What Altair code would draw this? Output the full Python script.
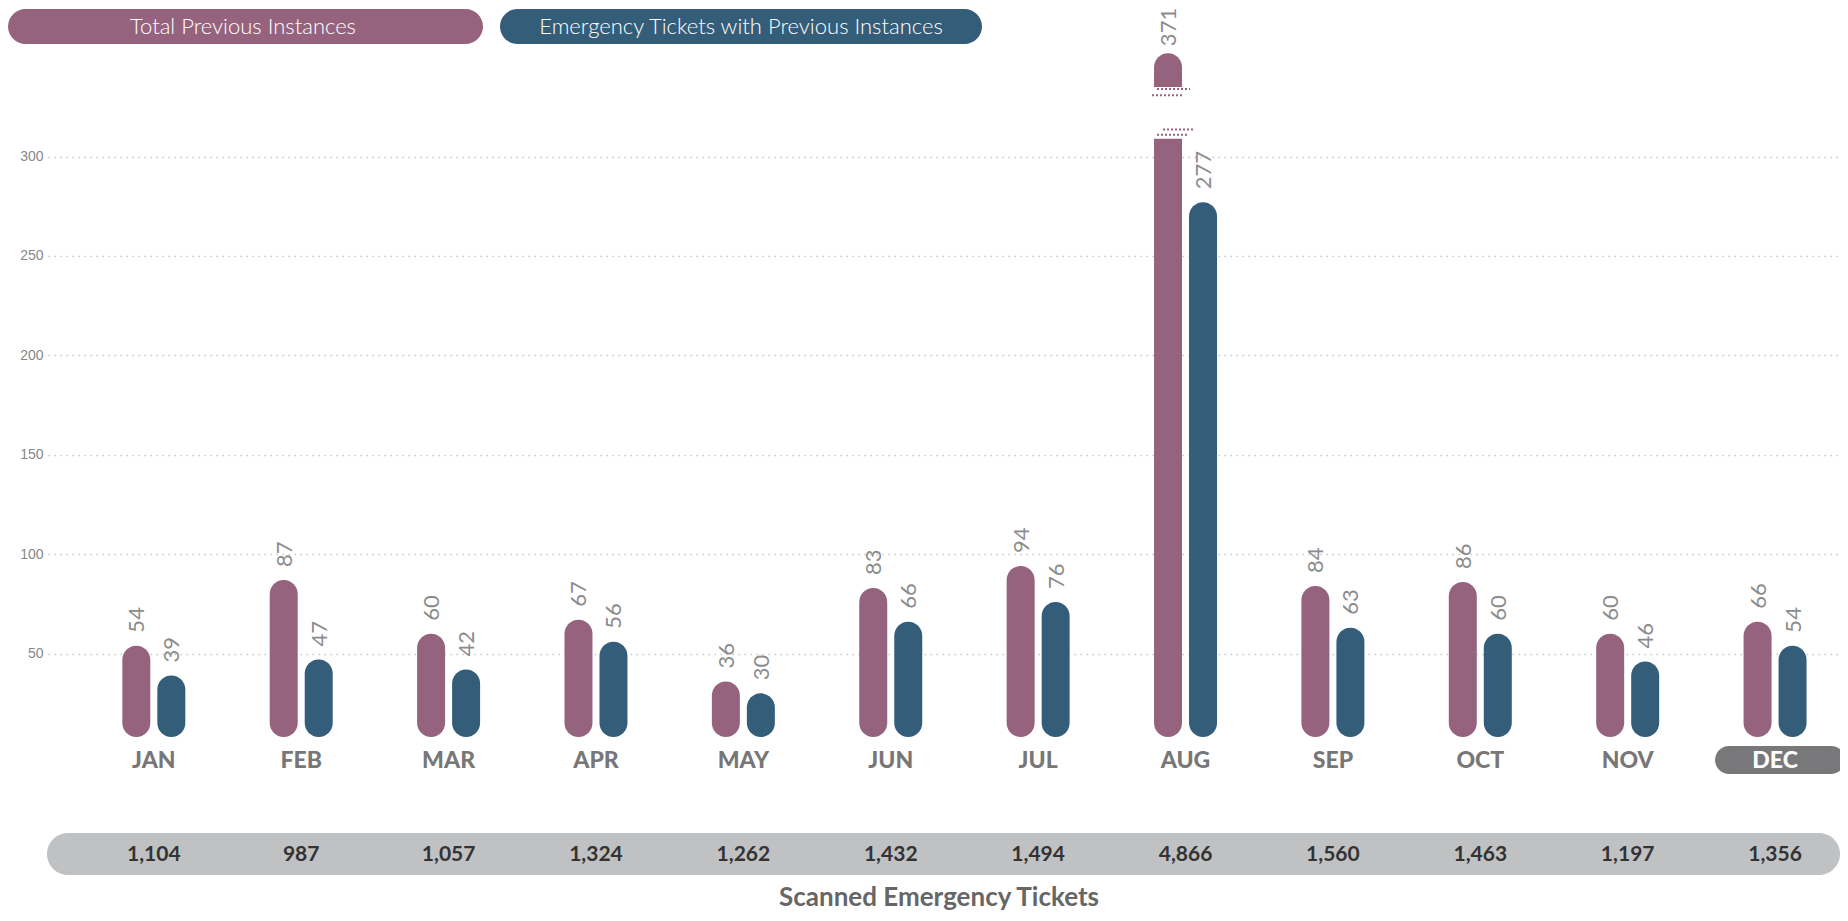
import altair as alt
import pandas as pd

# ---------------- data ----------------
months = ["JAN", "FEB", "MAR", "APR", "MAY", "JUN", "JUL", "AUG", "SEP", "OCT", "NOV", "DEC"]
total_previous = [54, 87, 60, 67, 36, 83, 94, 371, 84, 86, 60, 66]
emergency_with_previous = [39, 47, 42, 56, 30, 66, 76, 277, 63, 60, 46, 54]
scanned_tickets = [1104, 987, 1057, 1324, 1262, 1432, 1494, 4866, 1560, 1463, 1197, 1356]
series_names = ["Total Previous Instances", "Emergency Tickets with Previous Instances"]
highlight_month = "DEC"
y_ticks = [50, 100, 150, 200, 250, 300]

# ---------------- style / layout constants ----------------
PINK = "#96637f"
BLUE = "#345d7a"
COLORS = [PINK, BLUE]
OFFSETS = [-17.5, 17.5]          # px offset of each series from month centre
HALF_W = 14                      # half bar width in px
BREAK_LOW = 309                  # axis break: bar drawn up to here
BREAK_HIGH = 335                 # cap starts here
CAP = 17                         # cap height in value units
BASE = 8                         # bar baseline value
FONT = "Lato"
LABEL_STYLE = dict(angle=270, align="left", baseline="middle", font=FONT,
                   fontSize=22, fontWeight=400, color="#8c8c8c")

W, H = 1790, 745

month_df = pd.DataFrame({"month": months, "idx": list(range(12)), "tickets": scanned_tickets})
rows = []
for s, vals in zip(series_names, [total_previous, emergency_with_previous]):
    for i, (m, v) in enumerate(zip(months, vals)):
        rows.append({"month": m, "idx": i, "series": s, "value": v})
bars_df = pd.DataFrame(rows)
legend_df = pd.DataFrame({"series": series_names})
one_df = pd.DataFrame({"k": [0]})

xscale = alt.Scale(domain=[-0.718, 11.427], nice=False, zero=False)
yscale = alt.Scale(domain=[0, 374.7], nice=False, zero=False)
yaxis = alt.Axis(values=y_ticks, title=None, grid=True)


def X(field="idx:Q"):
    return alt.X(field, scale=xscale, axis=None)


def Y(field):
    return alt.Y(field, scale=yscale, axis=yaxis)


layers = []

for s, col, off in zip(series_names, COLORS, OFFSETS):
    base = alt.Chart(bars_df).transform_filter(alt.datum.series == s).transform_calculate(
        base=str(BASE), low=str(BREAK_LOW), cap_lo=str(BREAK_HIGH), cap_hi=str(BREAK_HIGH + CAP),
    )
    normal = base.transform_filter(alt.datum.value <= BREAK_LOW)
    normal_bar = normal.mark_rect(
        color=col, cornerRadius=HALF_W, xOffset=off - HALF_W, x2Offset=off + HALF_W
    ).encode(x=X(), x2="idx:Q", y=Y("value:Q"), y2="base:Q")
    broken = base.transform_filter(alt.datum.value > BREAK_LOW)
    broken_bar = broken.mark_rect(
        color=col, cornerRadiusBottomLeft=HALF_W, cornerRadiusBottomRight=HALF_W,
        xOffset=off - HALF_W, x2Offset=off + HALF_W
    ).encode(x=X(), x2="idx:Q", y=Y("low:Q"), y2="base:Q")
    cap = broken.mark_rect(
        color=col, cornerRadiusTopLeft=HALF_W, cornerRadiusTopRight=HALF_W,
        xOffset=off - HALF_W, x2Offset=off + HALF_W
    ).encode(x=X(), x2="idx:Q", y=Y("cap_hi:Q"), y2="cap_lo:Q")
    break_lines = []
    for yv, a, b in [(BREAK_HIGH - 1, 3, 36), (BREAK_HIGH - 4.2, -2, 30),
                     (BREAK_LOW + 4.6, 9, 41), (BREAK_LOW + 1.9, 3, 35)]:
        break_lines.append(
            broken.transform_calculate(ly=str(yv)).mark_rule(
                color=col, strokeWidth=2, strokeDash=[2, 2],
                xOffset=off - HALF_W + a, x2Offset=off - HALF_W + b
            ).encode(x=X(), x2="idx:Q", y=Y("ly:Q"))
        )
    normal_labels = normal.mark_text(dx=13, xOffset=off + 1, **LABEL_STYLE).encode(
        x=X(), y=Y("value:Q"), text="value:Q")
    broken_labels = broken.mark_text(dx=7, xOffset=off + 1, **LABEL_STYLE).encode(
        x=X(), y=Y("cap_hi:Q"), text="value:Q")
    layers += [normal_bar, broken_bar, cap] + break_lines + [normal_labels, broken_labels]

# legend pills
pill_x = [(-40, 435, 195), (452, 934, 693)]
for s, col, (x0, x1, xc) in zip(series_names, COLORS, pill_x):
    ld = alt.Chart(legend_df).transform_filter(alt.datum.series == s)
    layers.append(ld.mark_rect(color=col, cornerRadius=17.5).encode(
        x=alt.value(x0), x2=alt.value(x1), y=alt.value(1), y2=alt.value(36)))
    layers.append(ld.mark_text(font=FONT, fontSize=22, fontWeight=300, color="white",
                               align="center", baseline="middle").encode(
        x=alt.value(xc), y=alt.value(19), text="series:N"))

# highlighted month pill
layers.append(alt.Chart(month_df).transform_filter(alt.datum.month == highlight_month).mark_rect(
    color="#78787a", cornerRadius=14, xOffset=-60, x2Offset=70).encode(
    x=X(), x2="idx:Q", y=alt.value(738), y2=alt.value(766)))

# month labels
layers.append(alt.Chart(month_df).mark_text(
    font=FONT, fontSize=23, fontWeight=900, align="center", baseline="middle").encode(
    x=X(), y=alt.value(753), text="month:N",
    color=alt.condition(alt.datum.month == highlight_month, alt.value("white"), alt.value("#777777"))))

# bottom band with scanned ticket counts
layers.append(alt.Chart(one_df).mark_rect(color="#c0c1c3", cornerRadius=21).encode(
    x=alt.value(-1), x2=alt.value(1792), y=alt.value(825), y2=alt.value(867)))
layers.append(alt.Chart(month_df).mark_text(
    font=FONT, fontSize=21, fontWeight="bold", color="#333333", align="center", baseline="middle").encode(
    x=X(), y=alt.value(847), text=alt.Text("tickets:Q", format=",")))
layers.append(alt.Chart(one_df).mark_text(
    text="Scanned Emergency Tickets", font=FONT, fontSize=26, fontWeight="bold",
    color="#666666", align="center", baseline="alphabetic").encode(
    x=alt.value(891), y=alt.value(898)))

chart = alt.layer(*layers).properties(
    width=W, height=H,
    autosize=alt.AutoSizeParams(type="none"),
    padding={"left": 40, "top": 0, "right": 2, "bottom": 160},
).configure_view(stroke=None).configure_axisY(
    domain=False, ticks=False, labelFont="Liberation Sans", labelFontSize=14,
    labelColor="#888888", labelPadding=5, gridColor="#c8c8c8",
    gridDash=[1.5, 4.5], gridWidth=1.5,
)

chart.save("out.html", embed_options={"renderer": "svg", "actions": False})
